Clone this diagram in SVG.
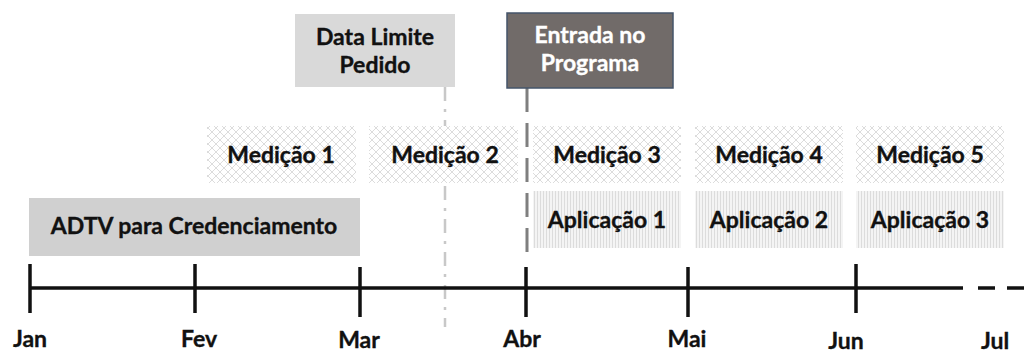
<svg xmlns="http://www.w3.org/2000/svg" width="1032" height="352" viewBox="0 0 1032 352">
<defs>
<pattern id="diamond" width="8" height="8" patternUnits="userSpaceOnUse">
<rect width="8" height="8" fill="#ffffff"/>
<path d="M0,0 L8,8 M8,0 L0,8" stroke="#dcdcdc" stroke-width="1" fill="none"/>
</pattern>
<pattern id="vlines" width="3" height="3" patternUnits="userSpaceOnUse">
<rect width="3" height="3" fill="#f4f4f4"/>
<rect width="1" height="3" fill="#dcdcdc"/>
</pattern>
<style>
.m{font-family:Lato,"Liberation Sans",sans-serif;font-weight:bold;font-size:23px;fill:#111;stroke:#111;stroke-width:0.35;text-anchor:middle}
.w{fill:#fff;stroke:#fff}
.med{fill:url(#diamond)}
.app{fill:url(#vlines)}
.axis{stroke:#111;stroke-width:3.5;fill:none}
</style>
</defs>
<g id="connectors">
<line x1="445" y1="87" x2="445" y2="327" stroke="#c8c8c8" stroke-width="2.5" stroke-dasharray="14 8 3 8"/>
<line x1="527" y1="88" x2="527" y2="257" stroke="#7f7f7f" stroke-width="3" stroke-dasharray="24 11"/>
</g>
<g id="timeline">
<line class="axis" x1="30" y1="288" x2="963" y2="288"/>
<line class="axis" x1="978" y1="288" x2="1032" y2="288" stroke-dasharray="17 12"/>
<line class="axis" x1="30" y1="264" x2="30" y2="313"/>
<line class="axis" x1="195" y1="264" x2="195" y2="313"/>
<line class="axis" x1="360" y1="267" x2="360" y2="317"/>
<line class="axis" x1="526" y1="267" x2="526" y2="317"/>
<line class="axis" x1="688" y1="267" x2="688" y2="317"/>
<line class="axis" x1="856" y1="264" x2="856" y2="313"/>
<text class="m" x="30" y="347">Jan</text>
<text class="m" x="199" y="347">Fev</text>
<text class="m" x="359" y="348">Mar</text>
<text class="m" x="522" y="347">Abr</text>
<text class="m" x="687" y="347">Mai</text>
<text class="m" x="846" y="349">Jun</text>
<text class="m" x="995" y="349">Jul</text>
</g>
<g id="data-limite">
<rect x="295" y="14" width="160" height="73" fill="#d9d9d9"/>
<text class="m" x="375" y="45">Data Limite</text>
<text class="m" x="375" y="73">Pedido</text>
</g>
<g id="entrada">
<rect x="507" y="13" width="166" height="75" fill="#716b69" stroke="#44546a" stroke-width="1.5"/>
<text class="m w" x="590" y="43">Entrada no</text>
<text class="m w" x="590" y="71">Programa</text>
</g>
<g id="adtv">
<rect x="29" y="198" width="331" height="58" fill="#d0d0d0"/>
<text class="m" x="194" y="234">ADTV para Credenciamento</text>
</g>
<g id="medicao1"><rect class="med" x="207" y="126" width="149" height="57"/><text class="m" x="281" y="163">Medição 1</text></g>
<g id="medicao2"><rect class="med" x="369" y="126" width="149" height="57"/><text class="m" x="445" y="163">Medição 2</text></g>
<g id="medicao3"><rect class="med" x="533" y="126" width="148" height="57"/><text class="m" x="607" y="163">Medição 3</text></g>
<g id="medicao4"><rect class="med" x="695" y="126" width="148" height="57"/><text class="m" x="769" y="163">Medição 4</text></g>
<g id="medicao5"><rect class="med" x="856" y="126" width="148" height="57"/><text class="m" x="930" y="163">Medição 5</text></g>
<g id="aplicacao1"><rect class="app" x="533" y="191" width="148" height="57"/><text class="m" x="607" y="228">Aplicação 1</text></g>
<g id="aplicacao2"><rect class="app" x="695" y="191" width="148" height="57"/><text class="m" x="769" y="228">Aplicação 2</text></g>
<g id="aplicacao3"><rect class="app" x="856" y="191" width="148" height="57"/><text class="m" x="930" y="228">Aplicação 3</text></g>
</svg>
